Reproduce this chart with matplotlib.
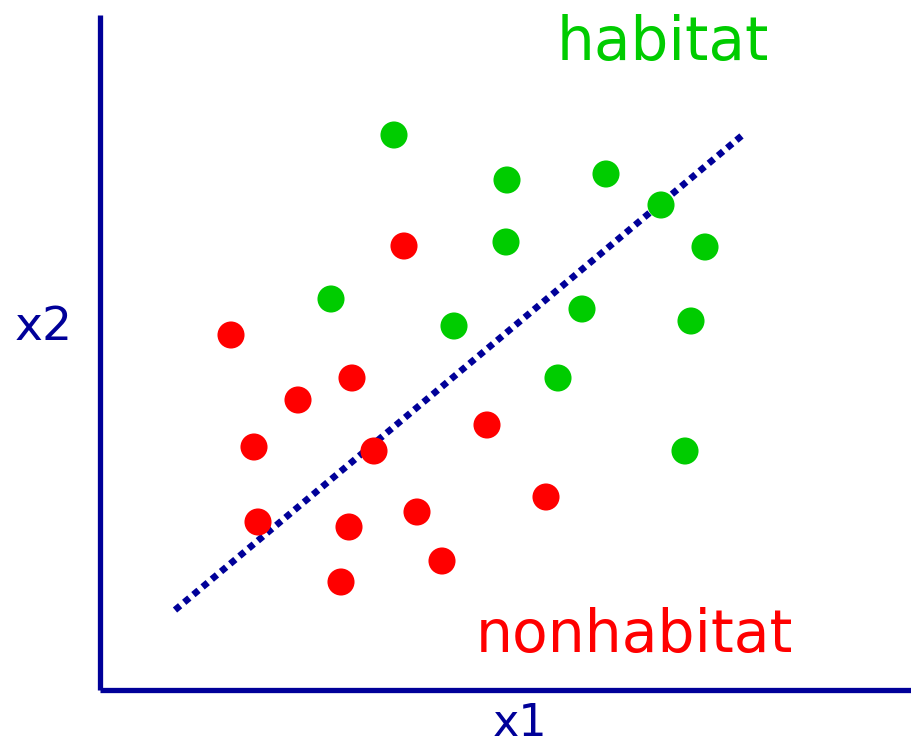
import matplotlib
matplotlib.use("Agg")
import matplotlib.pyplot as plt

# data (pixel-like units, y grows downward)
habitat_x = [394, 507, 606, 661, 705, 506, 331, 454, 582, 691, 558, 685]
habitat_y = [135, 180, 174, 205, 247, 242, 299, 326, 309, 321, 378, 451]
nonhab_x = [404, 231, 352, 298, 254, 374, 487, 258, 349, 417, 546, 442, 341]
nonhab_y = [246, 335, 378, 400, 447, 451, 425, 522, 527, 512, 497, 561, 582]
boundary_x = [175, 745]
boundary_y = [610, 133]

GREEN = "#00cc00"
RED = "#ff0000"
NAVY = "#000099"

W, H = 912, 746
fig = plt.figure(figsize=(W / 100, H / 100), dpi=100)
left, bottom, top = 100, 690, 15
ax = fig.add_axes([left / W, (H - bottom) / H, (W - left) / W, (bottom - top) / H])
ax.set_xlim(left, W)
ax.set_ylim(bottom, top)

for s in ("top", "right"):
    ax.spines[s].set_visible(False)
for s in ("left", "bottom"):
    ax.spines[s].set_color(NAVY)
    ax.spines[s].set_linewidth(3.8)
    ax.spines[s].set_capstyle("butt")
ax.set_xticks([])
ax.set_yticks([])

ax.plot(boundary_x, boundary_y, color=NAVY, lw=4.8,
        linestyle=(0, (1.0, 0.8)), dash_capstyle="butt", zorder=2)
ax.scatter(habitat_x, habitat_y, s=380, color=GREEN, edgecolors="none", zorder=3)
ax.scatter(nonhab_x, nonhab_y, s=380, color=RED, edgecolors="none", zorder=3)

ax.text(663, 60, "habitat", color=GREEN, fontsize=43, ha="center", va="baseline",
        clip_on=False)
ax.text(634, 652, "nonhabitat", color=RED, fontsize=42, ha="center", va="baseline",
        clip_on=False)
ax.text(44, 340, "x2", color=NAVY, fontsize=34, ha="center", va="baseline",
        clip_on=False)
ax.text(520, 736, "x1", color=NAVY, fontsize=32, ha="center", va="baseline",
        clip_on=False)

fig.savefig("out.png", dpi=100)
